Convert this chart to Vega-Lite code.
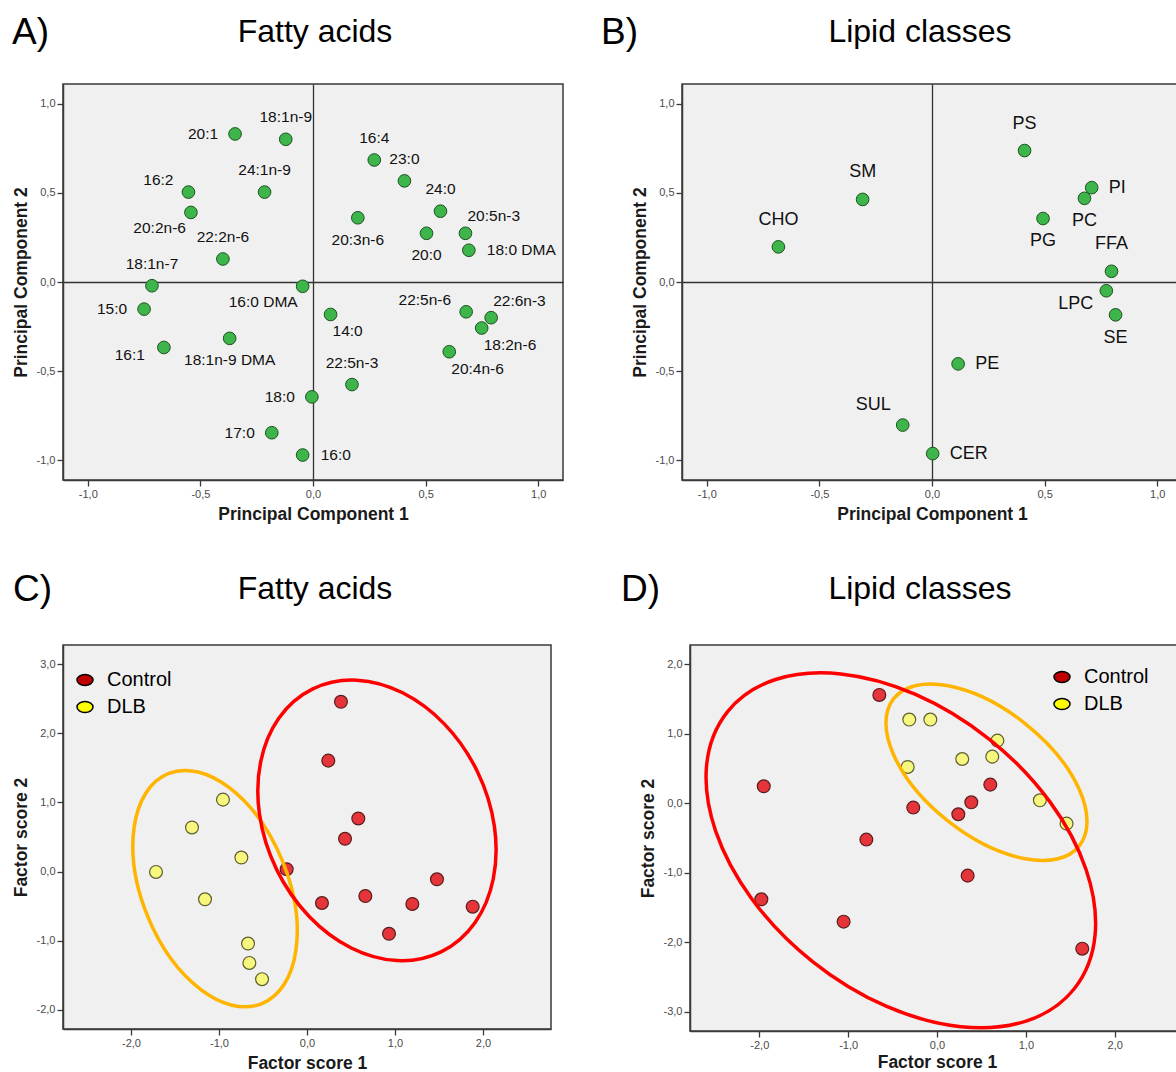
{
  "$schema": "https://vega.github.io/schema/vega-lite/v6.json",
  "padding": {"left": 11, "top": 14, "right": 0, "bottom": 0},
  "background": "white",
  "config": {
    "font": "Liberation Sans",
    "locale": {"number": {"decimal": ",", "thousands": ".", "grouping": [3], "currency": ["", " €"], "minus": "-"}},
    "view": {"fill": "#f0f0f0", "stroke": "#3a3a3a", "strokeWidth": 1.5},
    "axis": {
      "grid": false, "domainColor": "#3a3a3a", "domainWidth": 1.5,
      "tickColor": "#3a3a3a", "tickSize": 6, "tickWidth": 1.3,
      "labelFont": "Liberation Sans", "labelFontSize": 11, "labelColor": "#4a4a4a", "labelPadding": 2,
      "labelFlush": false, "labelOverlap": false,
      "titleFont": "Liberation Sans", "titleFontSize": 17.5, "titleFontWeight": "bold", "titleColor": "#1a1a1a", "titlePadding": 6
    },
    "title": {"font": "Liberation Sans", "fontSize": 32, "fontWeight": "normal", "color": "#000000"},
    "legend": {"labelFont": "Liberation Sans"}
  },
  "datasets": {
    "fatty_acid_loadings": [
      {"label": "20:1", "pc1": -0.346, "pc2": 0.83, "pos": "l"},
      {"label": "18:1n-9", "pc1": -0.121, "pc2": 0.80, "pos": "a"},
      {"label": "16:4", "pc1": 0.272, "pc2": 0.684, "pos": "a"},
      {"label": "23:0", "pc1": 0.406, "pc2": 0.567, "pos": "a"},
      {"label": "24:0", "pc1": 0.566, "pc2": 0.397, "pos": "a"},
      {"label": "20:5n-3", "pc1": 0.677, "pc2": 0.273, "pos": "ar"},
      {"label": "18:0 DMA", "pc1": 0.692, "pc2": 0.178, "pos": "r"},
      {"label": "20:0", "pc1": 0.504, "pc2": 0.273, "pos": "b"},
      {"label": "20:3n-6", "pc1": 0.199, "pc2": 0.36, "pos": "b"},
      {"label": "24:1n-9", "pc1": -0.215, "pc2": 0.504, "pos": "a"},
      {"label": "16:2", "pc1": -0.553, "pc2": 0.504, "pos": "al"},
      {"label": "20:2n-6", "pc1": -0.542, "pc2": 0.39, "pos": "bl"},
      {"label": "22:2n-6", "pc1": -0.40, "pc2": 0.129, "pos": "a"},
      {"label": "18:1n-7", "pc1": -0.715, "pc2": -0.021, "pos": "a"},
      {"label": "16:0 DMA", "pc1": -0.046, "pc2": -0.024, "pos": "bl"},
      {"label": "15:0", "pc1": -0.75, "pc2": -0.152, "pos": "l"},
      {"label": "14:0", "pc1": 0.078, "pc2": -0.182, "pos": "br"},
      {"label": "16:1", "pc1": -0.662, "pc2": -0.367, "pos": "lb"},
      {"label": "18:1n-9 DMA", "pc1": -0.37, "pc2": -0.316, "pos": "b"},
      {"label": "22:5n-6", "pc1": 0.68, "pc2": -0.167, "pos": "al"},
      {"label": "22:6n-3", "pc1": 0.791, "pc2": -0.20, "pos": "ar"},
      {"label": "18:2n-6", "pc1": 0.749, "pc2": -0.258, "pos": "br"},
      {"label": "20:4n-6", "pc1": 0.605, "pc2": -0.391, "pos": "br"},
      {"label": "22:5n-3", "pc1": 0.173, "pc2": -0.575, "pos": "a"},
      {"label": "18:0", "pc1": -0.005, "pc2": -0.644, "pos": "l"},
      {"label": "17:0", "pc1": -0.183, "pc2": -0.845, "pos": "l"},
      {"label": "16:0", "pc1": -0.046, "pc2": -0.97, "pos": "r"}
    ],
    "lipid_class_loadings": [
      {"label": "PS", "pc1": 0.411, "pc2": 0.737, "pos": "a"},
      {"label": "SM", "pc1": -0.308, "pc2": 0.463, "pos": "a"},
      {"label": "CHO", "pc1": -0.682, "pc2": 0.197, "pos": "a"},
      {"label": "PI", "pc1": 0.709, "pc2": 0.529, "pos": "r"},
      {"label": "PC", "pc1": 0.677, "pc2": 0.469, "pos": "b"},
      {"label": "PG", "pc1": 0.493, "pc2": 0.356, "pos": "b"},
      {"label": "FFA", "pc1": 0.797, "pc2": 0.06, "pos": "a"},
      {"label": "LPC", "pc1": 0.774, "pc2": -0.049, "pos": "bl"},
      {"label": "SE", "pc1": 0.815, "pc2": -0.184, "pos": "b"},
      {"label": "PE", "pc1": 0.116, "pc2": -0.459, "pos": "r"},
      {"label": "SUL", "pc1": -0.13, "pc2": -0.802, "pos": "al"},
      {"label": "CER", "pc1": 0.003, "pc2": -0.962, "pos": "r"}
    ],
    "fatty_acid_scores": [
      {"group": "Control", "f1": 0.386, "f2": 2.454},
      {"group": "Control", "f1": 0.242, "f2": 1.604},
      {"group": "Control", "f1": 0.583, "f2": 0.768},
      {"group": "Control", "f1": 0.432, "f2": 0.474},
      {"group": "Control", "f1": -0.231, "f2": 0.034},
      {"group": "Control", "f1": 0.17, "f2": -0.454},
      {"group": "Control", "f1": 0.663, "f2": -0.353},
      {"group": "Control", "f1": 1.197, "f2": -0.468},
      {"group": "Control", "f1": 1.477, "f2": -0.111},
      {"group": "Control", "f1": 1.883, "f2": -0.507},
      {"group": "Control", "f1": 0.932, "f2": -0.899},
      {"group": "DLB", "f1": -0.955, "f2": 1.04},
      {"group": "DLB", "f1": -1.307, "f2": 0.638},
      {"group": "DLB", "f1": -0.746, "f2": 0.203},
      {"group": "DLB", "f1": -1.716, "f2": -0.005},
      {"group": "DLB", "f1": -1.159, "f2": -0.40},
      {"group": "DLB", "f1": -0.67, "f2": -1.04},
      {"group": "DLB", "f1": -0.655, "f2": -1.32},
      {"group": "DLB", "f1": -0.511, "f2": -1.555}
    ],
    "lipid_class_scores": [
      {"group": "Control", "f1": -0.649, "f2": 1.561},
      {"group": "Control", "f1": -1.95, "f2": 0.245},
      {"group": "Control", "f1": -0.267, "f2": -0.062},
      {"group": "Control", "f1": 0.24, "f2": -0.158},
      {"group": "Control", "f1": 0.386, "f2": 0.014},
      {"group": "Control", "f1": 0.6, "f2": 0.269},
      {"group": "Control", "f1": -0.795, "f2": -0.523},
      {"group": "Control", "f1": 0.345, "f2": -1.042},
      {"group": "Control", "f1": -1.977, "f2": -1.383},
      {"group": "Control", "f1": -1.051, "f2": -1.705},
      {"group": "Control", "f1": 1.635, "f2": -2.094},
      {"group": "DLB", "f1": -0.312, "f2": 1.206},
      {"group": "DLB", "f1": -0.075, "f2": 1.206},
      {"group": "DLB", "f1": -0.33, "f2": 0.523},
      {"group": "DLB", "f1": 0.284, "f2": 0.638},
      {"group": "DLB", "f1": 0.622, "f2": 0.672},
      {"group": "DLB", "f1": 0.68, "f2": 0.903},
      {"group": "DLB", "f1": 1.158, "f2": 0.043},
      {"group": "DLB", "f1": 1.458, "f2": -0.293}
    ],
    "fatty_acid_clusters": [
      {"group": "Control", "f1": 0.795, "f2": 0.74},
      {"group": "DLB", "f1": -1.045, "f2": -0.246}
    ],
    "lipid_class_clusters": [
      {"group": "Control", "f1": -0.407, "f2": -0.677},
      {"group": "DLB", "f1": 0.557, "f2": 0.447}
    ]
  },
  "resolve": {"scale": {"fill": "independent"}, "legend": {"fill": "independent"}},
  "vconcat": [
    {
      "hconcat": [
        {
          "title": {"text": "A)", "anchor": "start", "frame": "group", "offset": -37, "dx": -51, "fontSize": 37},
          "vconcat": [
            {
              "width": 500, "height": 396,
              "title": {"text": "Fatty acids", "anchor": "middle", "frame": "group", "offset": 35, "dx": 2},
              "data": {"name": "fatty_acid_loadings"},
              "encoding": {
                "x": {"field": "pc1", "type": "quantitative", "scale": {"domain": [-1.11, 1.11], "nice": false, "zero": false},
                  "axis": {"title": "Principal Component 1", "values": [-1, -0.5, 0, 0.5, 1], "format": ".1f", "grid": true, "gridColor": "#333333", "gridWidth": 1.3, "gridOpacity": {"condition": {"test": "datum.value === 0", "value": 1}, "value": 0}}},
                "y": {"field": "pc2", "type": "quantitative", "scale": {"domain": [-1.11, 1.11], "nice": false, "zero": false},
                  "axis": {"title": "Principal Component 2", "values": [-1, -0.5, 0, 0.5, 1], "format": ".1f", "grid": true, "gridColor": "#333333", "gridWidth": 1.3, "gridOpacity": {"condition": {"test": "datum.value === 0", "value": 1}, "value": 0}}}
              },
              "layer": [
                {"mark": {"type": "point", "filled": true, "shape": "circle", "size": 160, "fill": "#3db54a", "stroke": "#1d5220", "strokeWidth": 1, "opacity": 1}},
                {
                  "mark": {
                    "type": "text", "fontSize": 15.5, "fill": "#111111", "baseline": "middle",
                    "align": {"expr": "indexof(['l','lb','al','bl'], datum.pos) >= 0 ? 'right' : indexof(['r','ar','br'], datum.pos) >= 0 ? 'left' : 'center'"},
                    "dx": {"expr": "datum.pos === 'l' ? -17 : datum.pos === 'lb' ? -19 : datum.pos === 'al' ? -15 : datum.pos === 'bl' ? -5 : datum.pos === 'r' ? 18 : datum.pos === 'ar' ? 2 : datum.pos === 'br' ? 2 : 0"},
                    "dy": {"expr": "datum.pos === 'a' ? -22 : datum.pos === 'b' ? 22 : datum.pos === 'al' ? -12 : datum.pos === 'ar' ? -17 : datum.pos === 'bl' ? 16 : datum.pos === 'br' ? 17 : datum.pos === 'lb' ? 8 : 0"}
                  },
                  "encoding": {"text": {"field": "label", "type": "nominal"}}
                }
              ]
            }
          ]
        },
        {
          "title": {"text": "B)", "anchor": "start", "frame": "group", "offset": -37, "dx": -81, "fontSize": 37},
          "vconcat": [
            {
              "width": 500, "height": 396,
              "title": {"text": "Lipid classes", "anchor": "middle", "frame": "group", "offset": 35, "dx": -12},
              "data": {"name": "lipid_class_loadings"},
              "encoding": {
                "x": {"field": "pc1", "type": "quantitative", "scale": {"domain": [-1.11, 1.11], "nice": false, "zero": false},
                  "axis": {"title": "Principal Component 1", "values": [-1, -0.5, 0, 0.5, 1], "format": ".1f", "grid": true, "gridColor": "#333333", "gridWidth": 1.3, "gridOpacity": {"condition": {"test": "datum.value === 0", "value": 1}, "value": 0}}},
                "y": {"field": "pc2", "type": "quantitative", "scale": {"domain": [-1.11, 1.11], "nice": false, "zero": false},
                  "axis": {"title": "Principal Component 2", "values": [-1, -0.5, 0, 0.5, 1], "format": ".1f", "grid": true, "gridColor": "#333333", "gridWidth": 1.3, "gridOpacity": {"condition": {"test": "datum.value === 0", "value": 1}, "value": 0}}}
              },
              "layer": [
                {"mark": {"type": "point", "filled": true, "shape": "circle", "size": 160, "fill": "#3db54a", "stroke": "#1d5220", "strokeWidth": 1, "opacity": 1}},
                {
                  "mark": {
                    "type": "text", "fontSize": 18, "fill": "#111111", "baseline": "middle",
                    "align": {"expr": "indexof(['l','al','bl'], datum.pos) >= 0 ? 'right' : indexof(['r','ar','br'], datum.pos) >= 0 ? 'left' : 'center'"},
                    "dx": {"expr": "datum.pos === 'r' ? 17 : datum.pos === 'bl' ? -13 : datum.pos === 'al' ? -12 : 0"},
                    "dy": {"expr": "datum.pos === 'a' ? -27 : datum.pos === 'b' ? 23 : datum.pos === 'bl' ? 13 : datum.pos === 'al' ? -20 : 0"}
                  },
                  "encoding": {"text": {"field": "label", "type": "nominal"}}
                }
              ]
            }
          ]
        }
      ],
      "spacing": 37
    },
    {
      "resolve": {"scale": {"fill": "independent"}, "legend": {"fill": "independent"}},
      "hconcat": [
        {
          "title": {"text": "C)", "anchor": "start", "frame": "group", "offset": -37, "dx": -50, "fontSize": 37},
          "resolve": {"scale": {"fill": "independent"}, "legend": {"fill": "independent"}},
          "vconcat": [
            {
              "width": 488, "height": 384,
              "title": {"text": "Fatty acids", "anchor": "middle", "frame": "group", "offset": 39, "dx": 8},
              "data": {"name": "fatty_acid_scores"},
              "encoding": {
                "x": {"field": "f1", "type": "quantitative", "scale": {"domain": [-2.773, 2.773], "nice": false, "zero": false},
                  "axis": {"title": "Factor score 1", "values": [-2, -1, 0, 1, 2], "format": ".1f"}},
                "y": {"field": "f2", "type": "quantitative", "scale": {"domain": [-2.275, 3.275], "nice": false, "zero": false},
                  "axis": {"title": "Factor score 2", "values": [-2, -1, 0, 1, 2, 3], "format": ".1f"}}
              },
              "layer": [
                {
                  "mark": {"type": "point", "filled": true, "shape": "circle", "size": 10, "opacity": 0},
                  "encoding": {
                    "fill": {"field": "group", "type": "nominal", "scale": {"domain": ["Control", "DLB"], "range": ["#c00000", "#ffff00"]},
                      "legend": {"title": null, "orient": "none", "legendX": 12, "legendY": 25, "padding": 0,
                        "symbolType": "M 1 0 C 1 0.3866 0.5523 0.7 0 0.7 C -0.5523 0.7 -1 0.3866 -1 0 C -1 -0.3866 -0.5523 -0.7 0 -0.7 C 0.5523 -0.7 1 -0.3866 1 0 Z",
                        "symbolSize": 256, "symbolOpacity": 1, "symbolStrokeColor": "#000000", "symbolStrokeWidth": 1.5,
                        "labelFontSize": 20, "labelColor": "#000000", "labelOffset": 12, "rowPadding": 7}}
                  }
                },
                {
                  "mark": {"type": "point", "filled": true, "shape": "circle", "size": 165, "strokeWidth": 1.2, "opacity": 1},
                  "encoding": {
                    "fill": {"condition": {"test": "datum.group === 'Control'", "value": "#e5353b"}, "value": "#f7f77d"},
                    "stroke": {"condition": {"test": "datum.group === 'Control'", "value": "#5a1d1d"}, "value": "#5e5e2e"}
                  }
                },
                {
                  "data": {"name": "fatty_acid_clusters"},
                  "transform": [{"filter": "datum.group === 'DLB'"}],
                  "mark": {"type": "point", "filled": false, "opacity": 1, "stroke": "#ffb400", "strokeWidth": 3.5, "size": 61603, "angle": 67.8,
                    "shape": "M 1 0 C 1 0.3242 0.5523 0.587 0 0.587 C -0.5523 0.587 -1 0.3242 -1 0 C -1 -0.3242 -0.5523 -0.587 0 -0.587 C 0.5523 -0.587 1 -0.3242 1 0 Z"}
                },
                {
                  "data": {"name": "fatty_acid_clusters"},
                  "transform": [{"filter": "datum.group === 'Control'"}],
                  "mark": {"type": "point", "filled": false, "opacity": 1, "stroke": "#ff0000", "strokeWidth": 3.5, "size": 85615, "angle": 64,
                    "shape": "M 1 0 C 1 0.4217 0.5523 0.7635 0 0.7635 C -0.5523 0.7635 -1 0.4217 -1 0 C -1 -0.4217 -0.5523 -0.7635 0 -0.7635 C 0.5523 -0.7635 1 -0.4217 1 0 Z"}
                }
              ]
            }
          ]
        },
        {
          "title": {"text": "D)", "anchor": "start", "frame": "group", "offset": -37, "dx": -69, "fontSize": 37},
          "resolve": {"scale": {"fill": "independent"}, "legend": {"fill": "independent"}},
          "vconcat": [
            {
              "width": 494, "height": 386,
              "title": {"text": "Lipid classes", "anchor": "middle", "frame": "group", "offset": 39, "dx": -17},
              "data": {"name": "lipid_class_scores"},
              "encoding": {
                "x": {"field": "f1", "type": "quantitative", "scale": {"domain": [-2.78, 2.78], "nice": false, "zero": false},
                  "axis": {"title": "Factor score 1", "values": [-2, -1, 0, 1, 2], "format": ".1f", "titlePadding": 3}},
                "y": {"field": "f2", "type": "quantitative", "scale": {"domain": [-3.28, 2.28], "nice": false, "zero": false},
                  "axis": {"title": "Factor score 2", "values": [-3, -2, -1, 0, 1, 2], "format": ".1f"}}
              },
              "layer": [
                {
                  "mark": {"type": "point", "filled": true, "shape": "circle", "size": 10, "opacity": 0},
                  "encoding": {
                    "fill": {"field": "group", "type": "nominal", "scale": {"domain": ["Control", "DLB"], "range": ["#c00000", "#ffff00"]},
                      "legend": {"title": null, "orient": "none", "legendX": 362, "legendY": 22, "padding": 0,
                        "symbolType": "M 1 0 C 1 0.3866 0.5523 0.7 0 0.7 C -0.5523 0.7 -1 0.3866 -1 0 C -1 -0.3866 -0.5523 -0.7 0 -0.7 C 0.5523 -0.7 1 -0.3866 1 0 Z",
                        "symbolSize": 256, "symbolOpacity": 1, "symbolStrokeColor": "#000000", "symbolStrokeWidth": 1.5,
                        "labelFontSize": 20, "labelColor": "#000000", "labelOffset": 12, "rowPadding": 7}}
                  }
                },
                {
                  "mark": {"type": "point", "filled": true, "shape": "circle", "size": 165, "strokeWidth": 1.2, "opacity": 1},
                  "encoding": {
                    "fill": {"condition": {"test": "datum.group === 'Control'", "value": "#e5353b"}, "value": "#f7f77d"},
                    "stroke": {"condition": {"test": "datum.group === 'Control'", "value": "#5a1d1d"}, "value": "#5e5e2e"}
                  }
                },
                {
                  "data": {"name": "lipid_class_clusters"},
                  "transform": [{"filter": "datum.group === 'DLB'"}],
                  "mark": {"type": "point", "filled": false, "opacity": 1, "stroke": "#ffb400", "strokeWidth": 3.5, "size": 56074, "angle": 38.4,
                    "shape": "M 1 0 C 1 0.29 0.5523 0.525 0 0.525 C -0.5523 0.525 -1 0.29 -1 0 C -1 -0.29 -0.5523 -0.525 0 -0.525 C 0.5523 -0.525 1 -0.29 1 0 Z"}
                },
                {
                  "data": {"name": "lipid_class_clusters"},
                  "transform": [{"filter": "datum.group === 'Control'"}],
                  "mark": {"type": "point", "filled": false, "opacity": 1, "stroke": "#ff0000", "strokeWidth": 3.5, "size": 196959, "angle": 38.6,
                    "shape": "M 1 0 C 1 0.3535 0.5523 0.64 0 0.64 C -0.5523 0.64 -1 0.3535 -1 0 C -1 -0.3535 -0.5523 -0.64 0 -0.64 C 0.5523 -0.64 1 -0.3535 1 0 Z"}
                }
              ]
            }
          ]
        }
      ],
      "spacing": 69
    }
  ],
  "spacing": 47
}
